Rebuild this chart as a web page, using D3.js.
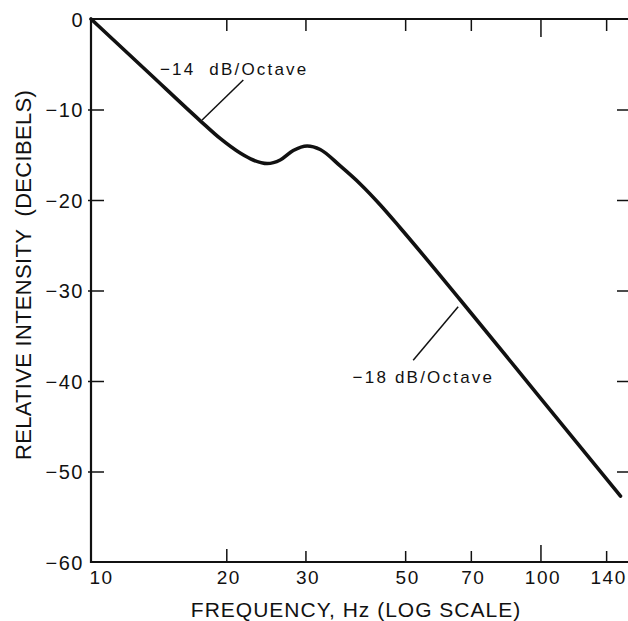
<!DOCTYPE html>
<html>
<head>
<meta charset="utf-8">
<script src="https://cdn.jsdelivr.net/npm/d3@7"></script>
<style>
  html, body { margin: 0; padding: 0; background: #fff; }
  svg { display: block; }
  text { font-family: "Liberation Sans", Arial, sans-serif; fill: #111; white-space: pre; }
</style>
</head>
<body>
<svg id="chart" width="628" height="621"></svg>
<script>
// ---- data ----
const frequencyHz = [10, 13.53, 17.48, 19.38, 21.47, 22.95, 24.66, 26.36, 28.18, 30.27, 32.36, 35.85, 39.72, 44.03, 48.78, 66.34, 100, 150.7];
const intensityDb = [0, -6.08, -11.22, -13.2, -14.81, -15.58, -15.97, -15.58, -14.53, -14.03, -14.42, -16.24, -18.23, -20.55, -23.09, -31.05, -41.88, -52.71];
const xTickValues = [10, 20, 30, 50, 70, 100, 140];
const yTickValues = [0, -10, -20, -30, -40, -50, -60];
const annotationLabels = ["\u221214  dB/Octave", "\u221218 dB/Octave"];
const annotationTextAt = [[14.24, -6.2], [38.2, -40.2]];
const leaderFrom = [[17.67, -11.16], [65.6, -31.8]];
const leaderTo = [[21.82, -6.74], [52.1, -37.7]];
const xTitle = "FREQUENCY, Hz (LOG SCALE)";
const yTitle = "RELATIVE INTENSITY  (DECIBELS)";

(function () {
// ---- layout ----
const svg = d3.select("#chart");
const mLeft = 91, mRight = 626, mTop = 19, mBottom = 562;
const x = d3.scaleLog().domain([10, 155]).range([mLeft, mRight]);
const y = d3.scaleLinear().domain([-60, 0]).range([mBottom, mTop]);

const ink = "#111";
const fam = "Liberation Sans, Arial, sans-serif";

// frame lines (left, top, bottom)
svg.append("line").attr("x1", mLeft).attr("x2", mLeft).attr("y1", mTop - 1).attr("y2", mBottom + 1)
  .attr("stroke", ink).attr("stroke-width", 2.2);
svg.append("line").attr("x1", mLeft).attr("x2", 628).attr("y1", mTop).attr("y2", mTop)
  .attr("stroke", ink).attr("stroke-width", 1.8);
svg.append("line").attr("x1", mLeft).attr("x2", 628).attr("y1", mBottom).attr("y2", mBottom)
  .attr("stroke", ink).attr("stroke-width", 1.8);

const longTick = v => (v === 100 ? 17 : v === 20 ? 13 : 11);

// bottom axis (labels + inward ticks)
const xAxis = d3.axisBottom(x).tickValues(xTickValues).tickFormat(d3.format("d"))
  .tickSizeInner(0).tickSizeOuter(0).tickPadding(9);
const gx = svg.append("g").attr("transform", `translate(0,${mBottom})`).call(xAxis);
gx.select(".domain").remove();
gx.selectAll(".tick text")
  .style("font-size", "19px").style("letter-spacing", "1.5px").style("font-family", fam)
  .attr("fill", ink)
  .attr("text-anchor", d => d === 10 ? "start" : "middle")
  .attr("dx", d => d === 10 ? -2 : 2);
gx.selectAll(".tick line").filter(d => d !== 10).attr("y2", d => -longTick(d))
  .attr("stroke", ink).attr("stroke-width", 1.5);

// top axis (inward ticks only)
const xAxisTop = d3.axisTop(x).tickValues(xTickValues.filter(v => v !== 10)).tickFormat("")
  .tickSizeOuter(0);
const gxt = svg.append("g").attr("transform", `translate(0,${mTop})`).call(xAxisTop);
gxt.select(".domain").remove();
gxt.selectAll(".tick line").attr("y2", d => (d === 100 ? 18 : 12)).attr("stroke", ink).attr("stroke-width", 1.5);

// left axis
const yAxis = d3.axisLeft(y).tickValues(yTickValues)
  .tickFormat(d => d === 0 ? "0" : "\u2212" + Math.abs(d))
  .tickSizeInner(0).tickSizeOuter(0).tickPadding(7);
const gy = svg.append("g").attr("transform", `translate(${mLeft},0)`).call(yAxis);
gy.select(".domain").remove();
gy.selectAll(".tick text")
  .style("font-size", "20px").style("letter-spacing", "1.5px").style("font-family", fam)
  .attr("fill", ink).attr("dy", "0.36em");
gy.selectAll(".tick line").filter(d => d !== 0 && d !== -60)
  .attr("x1", -3).attr("x2", 13).attr("stroke", ink).attr("stroke-width", 1.5);

// right ticks
const yAxisRight = d3.axisRight(y).tickValues(yTickValues.filter(v => v !== 0 && v !== -60))
  .tickFormat("").tickSizeInner(-11).tickSizeOuter(0);
const gyr = svg.append("g").attr("transform", `translate(628,0)`).call(yAxisRight);
gyr.select(".domain").remove();
gyr.selectAll(".tick line").attr("stroke", ink).attr("stroke-width", 1.5);

// curve
const pts = frequencyHz.map((f, i) => [f, intensityDb[i]]);
const line = d3.line().x(d => x(d[0])).y(d => y(d[1])).curve(d3.curveMonotoneX);
svg.append("path").datum(pts).attr("d", line)
  .attr("fill", "none").attr("stroke", ink).attr("stroke-width", 3.6)
  .attr("stroke-linecap", "round").attr("stroke-linejoin", "round");

// annotations
annotationLabels.forEach((t, i) => {
  svg.append("line")
    .attr("x1", x(leaderFrom[i][0])).attr("y1", y(leaderFrom[i][1]))
    .attr("x2", x(leaderTo[i][0])).attr("y2", y(leaderTo[i][1]))
    .attr("stroke", ink).attr("stroke-width", 1.5);
  svg.append("text").attr("x", x(annotationTextAt[i][0])).attr("y", y(annotationTextAt[i][1]))
    .style("font-size", "17px").style("letter-spacing", "2.2px").text(t);
});

// axis titles
svg.append("text").attr("x", 356).attr("y", 617).attr("text-anchor", "middle")
  .style("font-size", "21px").style("letter-spacing", "1px").text(xTitle);
svg.append("text").attr("transform", "translate(31,275) rotate(-90)").attr("text-anchor", "middle")
  .style("font-size", "22px").style("letter-spacing", "0.3px").text(yTitle);
})();
</script>
</body>
</html>
